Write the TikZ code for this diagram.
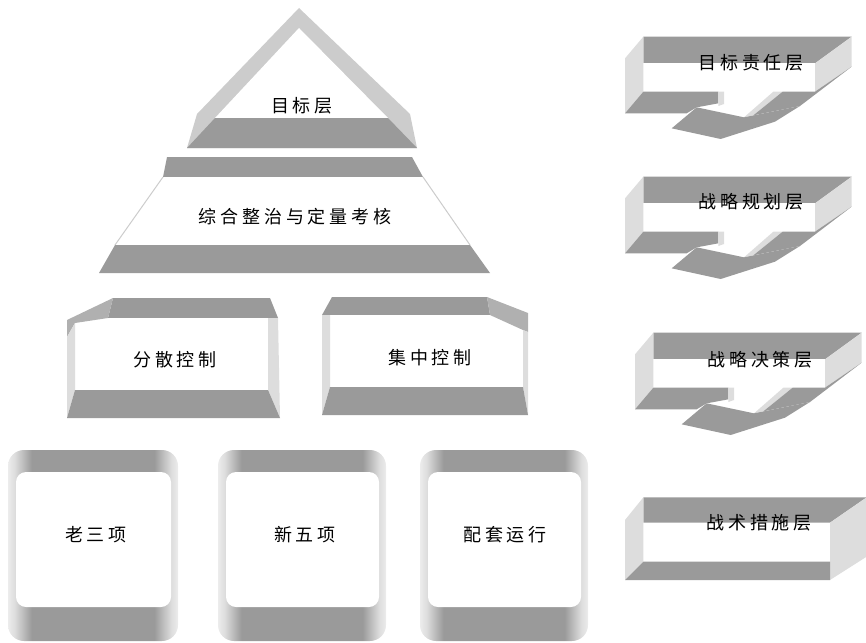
\documentclass[tikz,border=0pt]{standalone}
\usepackage{fontspec}
\newfontfamily\cjk[LetterSpace=21]{Noto Sans CJK SC}
\definecolor{dk}{HTML}{9A9A9A}
\definecolor{lt}{HTML}{DDDDDD}
\definecolor{md}{HTML}{B0B0B0}
\definecolor{pl}{HTML}{CCCCCC}
\definecolor{el}{HTML}{ECECEC}
\pgfdeclarehorizontalshading{keyside}{100bp}{color(0bp)=(el); color(25bp)=(el); color(27bp)=(lt); color(32bp)=(dk); color(68bp)=(dk); color(73bp)=(lt); color(75bp)=(el); color(100bp)=(el)}
\tikzset{lbl/.style={font=\cjk\fontsize{18pt}{18pt}\selectfont, inner sep=0pt, text=black}}
\newcommand\keycap[2]{%
  \shade[shading=keyside, rounded corners=16pt] (#1,450) rectangle (#2,641);
  \fill[white, rounded corners=10pt] ({#1+8},472) rectangle ({#2-7},607);}
\newcommand\arrowbox[2]{%
  \begin{scope}[shift={(#1,#2)}, scale=1/3]
    \fill[dk] (130,50)--(755,50)--(645,130)--(130,130)--cycle;
    \fill[white] (130,130) rectangle (645,215);
    \fill[lt] (75,115)--(130,50)--(130,215)--(75,280)--cycle;
    \fill[lt] (645,130)--(755,50)--(755,140)--(645,215)--cycle;
    \fill[dk] (75,280)--(130,215)--(355,215)--(355,250)--(290,262)--(260,280)--cycle;
    \fill[lt] (355,215)--(372,215)--(372,252)--(355,258)--cycle;
    \fill[lt] (520,215)--(548,215)--(460,286)--(432,292)--cycle;
    \fill[dk] (548,215)--(645,215)--(755,140)--(600,258)--(460,286)--cycle;
    \fill[dk] (215,325)--(290,262)--(432,292)--(600,258)--(525,305)--(362,357)--cycle;
  \end{scope}}
\begin{document}
\begin{tikzpicture}[x=1pt, y=-1pt]
\useasboundingbox (0,0) rectangle (866,642);
% pyramid top
\fill[pl] (299,8)--(410,114)--(417,148)--(187,148)--(197,114)--cycle;
\fill[white] (299,28)--(388,118)--(215,118)--cycle;
\fill[dk] (215,118)--(388,118)--(417,148)--(187,148)--cycle;
\node[lbl] (mbc) at (302,106) {目标层};
% trapezoid
\fill[dk] (167,157)--(412,157)--(423,177)--(163,177)--cycle;
\fill[white] (163,177)--(423,177)--(470,245)--(115,245)--cycle;
\draw[pl, line width=1pt] (163,177)--(115,245) (423,177)--(470,245);
\fill[dk] (115,245)--(470,245)--(490,273)--(99,273)--cycle;
\node[lbl] (zh) at (295,217) {综合整治与定量考核};
% 分散控制
\fill[dk] (113,298)--(270,298)--(278,318)--(108,318)--cycle;
\fill[white] (75,318) rectangle (268,390);
\fill[md] (67,320)--(113,298)--(108,318)--(75,323)--(67,337)--cycle;
\fill[lt] (67,337)--(75,323)--(75,390)--(67,418)--cycle;
\fill[lt] (268,318)--(278,318)--(280,418)--(268,390)--cycle;
\fill[dk] (75,390)--(268,390)--(280,418)--(67,418)--cycle;
\node[lbl] (fs) at (175,360) {分散控制};
% 集中控制
\fill[dk] (332,297)--(487,297)--(490,315)--(322,315)--cycle;
\fill[white] (330,315) rectangle (523,387);
\fill[md] (487,297)--(528,313)--(528,332)--(523,330)--(490,315)--cycle;
\fill[lt] (322,315)--(330,315)--(330,387)--(322,415)--cycle;
\fill[lt] (523,330)--(528,332)--(528,415)--(523,387)--cycle;
\fill[dk] (330,387)--(523,387)--(528,415)--(322,415)--cycle;
\node[lbl] (jz) at (430,358) {集中控制};
% keys
\keycap{8}{178}
\keycap{218}{386}
\keycap{420}{588}
\node[lbl] (lsx) at (96,535) {老三项};
\node[lbl] (xwx) at (305,535) {新五项};
\node[lbl] (ptyx) at (505,535) {配套运行};
% right column
\arrowbox{600}{20}
\arrowbox{600}{160}
\arrowbox{610}{316}
\begin{scope}[shift={(600,480)}, scale=1/3]
  \fill[dk] (130,52)--(800,52)--(690,128)--(130,128)--cycle;
  \fill[white] (130,128) rectangle (690,245);
  \fill[lt] (75,120)--(130,52)--(130,245)--(75,300)--cycle;
  \fill[lt] (690,128)--(800,52)--(800,230)--(690,300)--cycle;
  \fill[dk] (75,300)--(130,245)--(690,245)--(690,300)--cycle;
\end{scope}
\node[lbl] (r1) at (751,63) {目标责任层};
\node[lbl] (r2) at (751,202) {战略规划层};
\node[lbl] (r3) at (760,360) {战略决策层};
\node[lbl] (r4) at (759,523) {战术措施层};
\end{tikzpicture}
\end{document}
